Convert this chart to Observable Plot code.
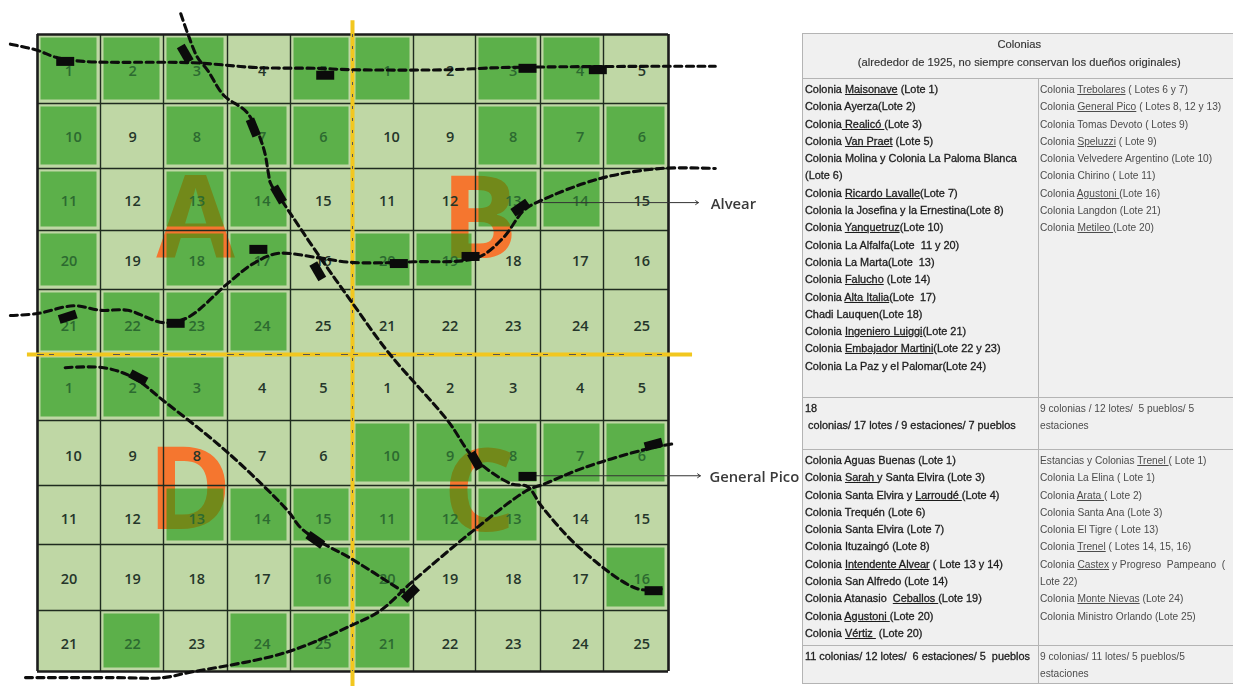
<!DOCTYPE html>
<html lang="es">
<head>
<meta charset="utf-8">
<script src="https://cdn.jsdelivr.net/npm/d3@7"></script>
<script src="https://cdn.jsdelivr.net/npm/@observablehq/plot@0.6"></script>
<style>
  html, body { margin: 0; padding: 0; background: #fff; overflow: hidden; width: 1233px; height: 686px; }
  #map { position: absolute; left: 0; top: 0; filter: blur(0.45px); }
  #map svg { display: block; }
  #tbl { position: absolute; left: 802px; top: 33px; width: 431px; border-collapse: collapse; table-layout: fixed;
         font-family: "Liberation Sans", Arial, sans-serif; line-height: 17.3px; background: #f0f0f0;
         filter: blur(0.4px); }
  #tbl td { border: 1px solid #b4b4b4; border-right: 0; vertical-align: top; padding: 2px 0 0 2px; overflow: hidden; box-sizing: border-box; }
  #tbl td div { white-space: pre; height: 17.3px; }
  #tbl td.l { color: #1c1c1c; font-size: 10.9px; -webkit-text-stroke: 0.3px #1c1c1c; }
  #tbl td.r { color: #4c4c4c; font-size: 10.2px; padding-left: 1px; }
  #tbl td.h { text-align: center; color: #333; font-size: 11.2px; line-height: 18px; padding-top: 1px; -webkit-text-stroke: 0.15px #333; }
  #tbl td.h div { height: 18px; }
</style>
</head>
<body>
<div id="map"></div>
<table id="tbl"></table>
<script>
// Lot numbers of one 5x5 quadrant, repeated across the map
const lotRows = [
  [1, 2, 3, 4, 5],
  [10, 9, 8, 7, 6],
  [11, 12, 13, 14, 15],
  [20, 19, 18, 17, 16],
  [21, 22, 23, 24, 25]
];
// 1 = colonised lot (dark green), 0 = other lot
const darkRows = [
  [1,1,1,0,1, 1,0,1,1,0],
  [1,0,1,1,1, 0,0,1,1,1],
  [1,0,1,1,0, 0,0,1,1,0],
  [1,0,1,1,0, 1,1,0,0,0],
  [1,1,1,1,0, 0,0,0,0,0],
  [1,1,1,0,0, 0,0,0,0,0],
  [0,0,0,0,0, 1,1,1,1,1],
  [0,0,1,1,1, 1,1,1,0,0],
  [0,0,0,0,1, 1,0,0,0,1],
  [0,1,0,1,1, 1,0,0,0,0]
];
// Where the lot numbers sit relative to the centre of their cell, in grid units
const labelColShift = [0,.01,.02,.05,.03,.07,.09,.08,.13,.09];
const labelRowShift = [0,-.015,-.01,-.015,.03,-.02,.015,.03,-.01,.015];
const sections = [
  {name: "A", col: 2.5, row: 2.86},
  {name: "B", col: 7.06, row: 2.86},
  {name: "C", col: 7.06, row: 7.15},
  {name: "D", col: 2.41, row: 7.12}
];
// Railways, in grid units (column, row)
const railTop = [[-.43,.14],[0,.23],[.29,.33],[.73,.39],[2.47,.41],[3.48,.48],[4.44,.49],[4.97,.51],[6.6,.51],[7.38,.48],[10,.46],[10.72,.46]];
const railDiagonal = [[2.27,-.3],[2.38,-.01],[2.53,.33],[2.69,.52],[2.94,.88],[3.32,1.15],[3.57,1.68],[3.65,2.08],[3.68,2.23],[3.89,2.56],[4.48,3.46],[4.97,4.17],[5.59,4.97],[6.55,6],[6.97,6.57],[7.54,6.97],[7.8,7.02],[8.03,7.37],[8.63,8.06],[9.52,8.67],[9.92,8.67]];
const railAlvear = [[-.43,4.4],[0,4.37],[.57,4.25],[1,4.32],[1.43,4.32],[2,4.51],[2.38,4.43],[3,3.9],[3.41,3.56],[3.79,3.39],[4.44,3.46],[4.97,3.54],[6,3.53],[7.03,3.46],[7.43,3.12],[7.74,2.68],[8,2.52],[8.95,2.16],[9.88,2],[10.72,2]];
const railSouth = [[.44,5.2],[1.05,5.2],[1.52,5.35],[2,5.7],[3,6.49],[3.95,7.42],[4.16,7.71],[4.44,7.93],[4.97,8.21],[5.84,8.72]];
const railPico = [[-.19,10.1],[1.16,10.1],[2,10.1],[2.38,10.02],[3.89,9.7],[4.97,9.25],[5.46,9],[5.95,8.59],[6.97,7.76],[7.8,7.08],[8.05,6.98],[8.68,6.73],[9.62,6.45],[10.11,6.35]];
const rails = [railTop, railDiagonal, railAlvear, railSouth, railPico];
// Stations: column, row, bearing in degrees
const stations = [
  [.44,.39,90],[2.34,.28,150],[3.41,1.37,158],[3.81,2.42,150],[3.49,3.32,90],[4.44,3.69,150],
  [.48,4.42,72],[2.19,4.52,90],[4.56,.59,90],[7.8,.49,90],[8.91,.51,90],[5.76,3.56,90],
  [6.92,3.44,90],[7.69,2.63,55],[1.6,5.35,118],[4.4,7.92,125],[7,6.62,150],[7.8,6.86,90],
  [9.77,6.37,75],[5.95,8.74,45],[9.77,8.7,90]
];
const callouts = [
  {label: "Alvear", c1: 8, c2: 10.46, row: 2.55, textCol: 10.65, textRow: 2.58},
  {label: "General Pico", c1: 7.85, c2: 10.49, row: 6.85, textCol: 10.63, textRow: 6.88}
];
// Table text; _x_ marks underlined words
const tableHead = ["Colonias", "(alrededor de 1925, no siempre conservan los dueños originales)"];
const colA = ["Colonia _Maisonave_ (Lote 1)","Colonia Ayerza(Lote 2)","Colonia_ Realicó _(Lote 3)","Colonia _Van Praet_ (Lote 5)","Colonia Molina y Colonia La Paloma Blanca","(Lote 6)","Colonia _Ricardo Lavalle_(Lote 7)","Colonia la Josefina y la Ernestina(Lote 8)","Colonia _Yanquetruz_(Lote 10)","Colonia La Alfalfa(Lote  11 y 20)","Colonia La Marta(Lote  13)","Colonia _Falucho_ (Lote 14)","Colonia _Alta Italia_(Lote  17)","Chadi Lauquen(Lote 18)","Colonia _Ingeniero Luiggi_(Lote 21)","Colonia _Embajador Martini_(Lote 22 y 23)","Colonia La Paz y el Palomar(Lote 24)"];
const colB = ["Colonia _Trebolares_ ( Lotes 6 y 7)","Colonia _General Pico_ ( Lotes 8, 12 y 13)","Colonia Tomas Devoto ( Lotes 9)","Colonia _Speluzzi_ ( Lote 9)","Colonia Velvedere Argentino (Lote 10)","Colonia Chirino ( Lote 11)","Colonia _Agustoni _(Lote 16)","Colonia Langdon (Lote 21)","Colonia _Metileo _(Lote 20)"];
const sumA = ["18"," colonias/ 17 lotes / 9 estaciones/ 7 pueblos"];
const sumB = ["9 colonias / 12 lotes/  5 pueblos/ 5","estaciones"];
const colD = ["Colonia Aguas Buenas (Lote 1)","Colonia _Sarah _y Santa Elvira (Lote 3)","Colonia Santa Elvira y _Larroudé _(Lote 4)","Colonia Trequén (Lote 6)","Colonia Santa Elvira (Lote 7)","Colonia Ituzaingó (Lote 8)","Colonia _Intendente Alvear_ ( Lote 13 y 14)","Colonia San Alfredo (Lote 14)","Colonia Atanasio  _Ceballos _(Lote 19)","Colonia _Agustoni _(Lote 20)","Colonia _Vértiz _ (Lote 20)"];
const colC = ["Estancias y Colonias _Trenel _( Lote 1)","Colonia La Elina ( Lote 1)","Colonia _Arata _( Lote 2)","Colonia Santa Ana (Lote 3)","Colonia El Tigre ( Lote 13)","Colonia _Trenel_ ( Lotes 14, 15, 16)","Colonia _Castex_ y Progreso  Pampeano  (","Lote 22)","Colonia _Monte Nievas_ (Lote 24)","Colonia Ministro Orlando (Lote 25)"];
const sumD = ["11 colonias/ 12 lotes/  6 estaciones/ 5  pueblos"];
const sumC = ["9 colonias/ 11 lotes/ 5 pueblos/5","estaciones"];

const ticks = d3.range(11);
const cells = darkRows.flatMap((r, row) => r.map((dark, col) => ({
  col, row, dark, lot: lotRows[row % 5][col % 5]
})));
const railSegs = rails.map((pts, i) => pts.map(([c, r]) => ({c, r, i})));
const font = "'Open Sans', sans-serif";

// Grid lines are not evenly spaced on the map: a piecewise transform maps grid units to the plot's scale
const colToMap = d3.scaleLinear(ticks, [37,100,163,227,290,352,413,475,540,603,668]);
const rowToMap = d3.scaleLinear(ticks, [34,103,168,230,289,354,420,485,544,610,671]);

const chart = Plot.plot({
  width: 1233,
  height: 686,
  margin: 0,
  style: {background: "transparent", overflow: "visible"},
  x: {transform: colToMap, domain: [0, 1233], range: [0, 1233], axis: null},
  y: {transform: rowToMap, domain: [0, 686], range: [0, 686], axis: null},
  marks: [
    Plot.rect([0], {x1: 0, x2: 10, y1: 0, y2: 10, fill: "#bfd7a5"}),
    Plot.text(sections, {x: "col", y: "row", text: "name", fontSize: 114, fontWeight: 700, fontFamily: font, fill: "#f5762f"}),
    Plot.rect(cells.filter(d => d.dark), {
      x1: "col", x2: d => d.col + 1, y1: "row", y2: d => d.row + 1,
      inset: 3.5, fill: "#1a960d", fillOpacity: 0.6
    }),
    Plot.ruleX(ticks.filter(d => d > 0 && d < 10 && d !== 5), {y1: 0, y2: 10, stroke: "#1f2b1f", strokeWidth: 1.4}),
    Plot.ruleY(ticks.filter(d => d > 0 && d < 10 && d !== 5), {x1: 0, x2: 10, stroke: "#1f2b1f", strokeWidth: 1.4}),
    Plot.ruleX([0, 10], {y1: 0, y2: 10, stroke: "#1c1c1c", strokeWidth: 2.6}),
    Plot.ruleY([0, 10], {x1: 0, x2: 10, stroke: "#1c1c1c", strokeWidth: 2.6}),
    Plot.text(cells, {
      x: d => d.col + 0.5 + labelColShift[d.col] + (d.lot === 10 ? 0.07 : 0),
      y: d => d.row + 0.5 + labelRowShift[d.row],
      text: "lot", dy: 2.5,
      fontSize: 14.5, fontWeight: 600, fontFamily: font,
      fill: d => d.dark ? "#2c6a30" : "#25362a"
    }),
    Plot.ruleX([5], {y1: -0.2, y2: 10.25, stroke: "#f2c71f", strokeWidth: 4}),
    Plot.ruleY([5], {x1: -0.16, x2: 10.37, stroke: "#f2c71f", strokeWidth: 4}),
    Plot.ruleX([5], {y1: 0, y2: 10, stroke: "#555", strokeWidth: 1, strokeDasharray: "3 9"}),
    Plot.ruleY([5], {x1: 0, x2: 10, stroke: "#555", strokeWidth: 1, strokeDasharray: "7 5 5 21"}),
    Plot.arrow(callouts, {x1: "c1", x2: "c2", y1: "row", y2: "row", stroke: "#333", strokeWidth: 1, headLength: 5, headAngle: 70, bend: 0}),
    ...railSegs.map(seg => Plot.line(seg, {x: "c", y: "r", curve: "catmull-rom", stroke: "#0d0d0d", strokeWidth: 3.1, strokeDasharray: "7 4.5"})),
    Plot.vector(stations, {
      x: d => d[0], y: d => d[1], rotate: d => d[2], length: 18, anchor: "middle",
      stroke: "#0b0b0b", strokeWidth: 9, strokeLinecap: "butt",
      shape: {draw(ctx, l) { ctx.moveTo(0, 0); ctx.lineTo(0, -l); }}
    }),
    Plot.text(callouts, {x: "textCol", y: "textRow", text: "label", textAnchor: "start", fontSize: 14.8, fontWeight: 600, fontFamily: font, fill: "#3a3a3a"})
  ]
});
document.getElementById("map").append(chart);

// Table
const esc = s => s.replace(/_([^_]*)_/g, "<u>$1</u>");
const cellHtml = lines => lines.map(l => `<div>${esc(l)}</div>`).join("");
const rowsSpec = [
  {h: 45, cells: [{html: cellHtml(tableHead), cls: "h", span: 2}]},
  {h: 319, cells: [{html: cellHtml(colA), cls: "l"}, {html: cellHtml(colB), cls: "r"}]},
  {h: 52, cells: [{html: cellHtml(sumA), cls: "l"}, {html: cellHtml(sumB), cls: "r"}]},
  {h: 196, cells: [{html: cellHtml(colD), cls: "l"}, {html: cellHtml(colC), cls: "r"}]},
  {h: 34, cells: [{html: cellHtml(sumD), cls: "l"}, {html: cellHtml(sumC), cls: "r"}]}
];
const tbl = document.getElementById("tbl");
tbl.innerHTML = '<colgroup><col style="width:236px"><col style="width:195px"></colgroup>' +
  rowsSpec.map(r => `<tr style="height:${r.h}px">` + r.cells.map(c =>
    `<td class="${c.cls}"${c.span ? ` colspan="${c.span}"` : ""}>${c.html}</td>`).join("") + "</tr>").join("");
</script>
</body>
</html>
